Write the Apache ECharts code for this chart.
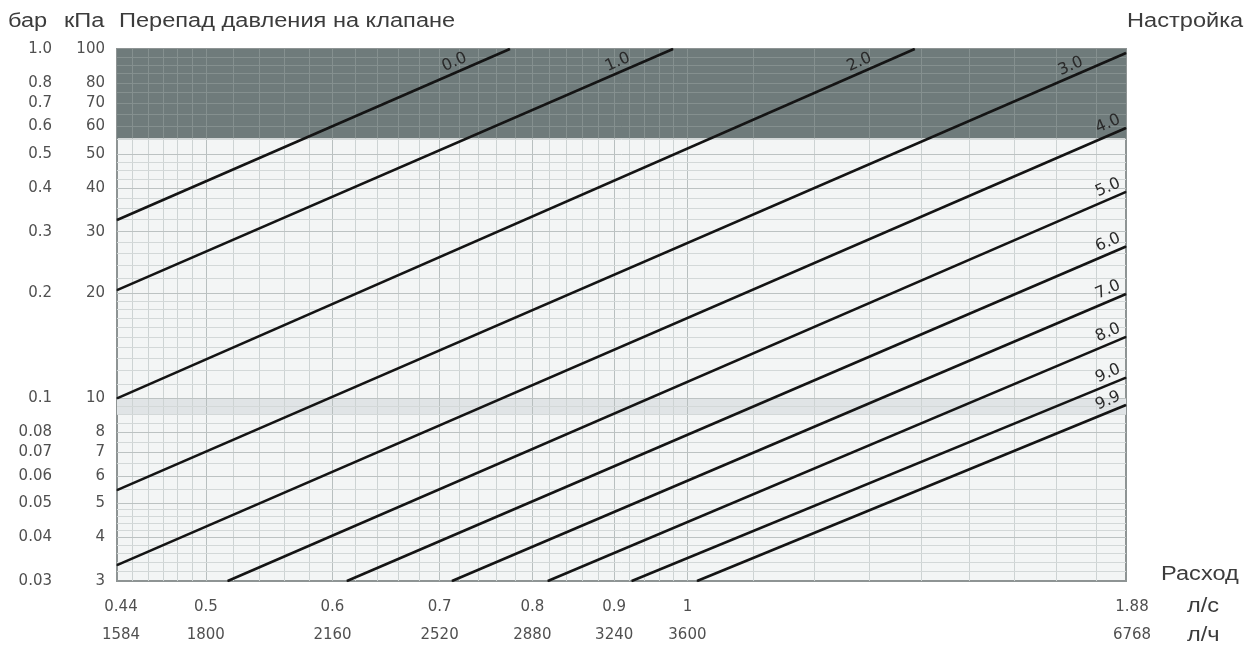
<!DOCTYPE html>
<html><head><meta charset="utf-8">
<script src="https://cdn.jsdelivr.net/npm/echarts@6/dist/echarts.min.js"></script>
<style>html,body{margin:0;padding:0;background:#fff}#c{width:1249px;height:646px}</style>
</head><body><div id="c"></div>
<script>
// ---- data (flow in l/s, pressure drop in kPa) ----
const settings = ['0.0','1.0','2.0','3.0','4.0','5.0','6.0','7.0','8.0','9.0','9.9'];
const lineStart = [[0.44,32.4],[0.44,20.4],[0.44,10.0],[0.44,5.46],[0.44,3.33],[0.516,3],[0.6126,3],[0.7126,3],[0.818,3],[0.923,3],[1.014,3]];
const lineEnd   = [[0.7745,100],[0.9795,100],[1.387,100],[1.88,97.4],[1.88,59.4],[1.88,39.0],[1.88,27.2],[1.88,19.9],[1.88,15.0],[1.88,11.46],[1.88,9.57]];
const flowTicksLs  = [0.44,0.5,0.6,0.7,0.8,0.9,1,1.88];
const flowLabelsLs = ['0.44','0.5','0.6','0.7','0.8','0.9','1','1.88'];
const flowTicksLh  = [1584,1800,2160,2520,2880,3240,3600,6768];
const kpaTicks  = [100,80,70,60,50,40,30,20,10,8,7,6,5,4,3];
const barTicks  = [1,0.8,0.7,0.6,0.5,0.4,0.3,0.2,0.1,0.08,0.07,0.06,0.05,0.04,0.03];
const barLabels = ['1.0','0.8','0.7','0.6','0.5','0.4','0.3','0.2','0.1','0.08','0.07','0.06','0.05','0.04','0.03'];
const gridFlow = [0.45,0.46,0.47,0.48,0.49,0.5,0.52,0.54,0.56,0.58,0.6,0.62,0.64,0.66,0.68,0.7,0.72,0.74,0.76,0.78,0.8,0.82,0.84,0.86,0.88,0.9,0.92,0.94,0.96,0.98,1.0,1.1,1.2,1.3,1.4,1.5,1.6,1.7,1.8];
const gridKpa = [3.2,3.4,3.6,3.8,4,4.2,4.4,4.6,4.8,5,5.5,6,6.5,7,7.5,8,8.5,9,9.5,10,11,12,13,14,15,16,17,18,19,20,22,24,26,28,30,32.5,35,37.5,40,42.5,45,47.5,50,55,60,65,70,75,80,85,90,95];
const darkBand = [55.5, 100];
const lightBand = [9, 10];

// label placement style per curve: 'top' = label set back along the line, 'edge' = at the right edge
const labelStyle = ['top','top','top','top','edge','edge','edge','edge','edge','edge','edge'];

const FLOW_MIN = 0.44, FLOW_MAX = 1.88, P_MIN = 3, P_MAX = 100;
const txt = '#505050';
const numFont = 'DejaVu Sans';
const NUM = 15;

function nearestIdx(arr, v){ let b=0, d=Infinity; arr.forEach((a,i)=>{const e=Math.abs(Math.log(a)-Math.log(v)); if(e<d){d=e;b=i;}}); return b; }

// grid lines
const lightGrid = [], bandGrid = [];
gridFlow.forEach(q=>{
  const major = flowTicksLs.some(t=>Math.abs(t-q)<1e-6);
  lightGrid.push([{coord:[q,P_MIN]},{coord:[q,darkBand[0]], lineStyle:{color: major?'#b8bfbf':'#cdd3d3'}}]);
  bandGrid.push([{coord:[q,darkBand[0]]},{coord:[q,P_MAX]}]);
});
gridKpa.forEach(p=>{
  const major = kpaTicks.some(t=>Math.abs(t-p)<1e-6);
  if (p < darkBand[0]) lightGrid.push([{coord:[FLOW_MIN,p]},{coord:[FLOW_MAX,p], lineStyle:{color: major?'#bcc2c2':'#d3d8d8'}}]);
  else bandGrid.push([{coord:[FLOW_MIN,p]},{coord:[FLOW_MAX,p]}]);
});

const curveSeries = settings.map((s,i)=>{
  const top = labelStyle[i] === 'top';
  return {
    type:'line', name:s, xAxisIndex:0, yAxisIndex:0, z:6,
    symbol:'circle', symbolSize:1, showSymbol:true, silent:true,
    itemStyle:{color:'#141414'},
    lineStyle:{color:'#141414', width:2.6},
    data:[ lineStart[i], { value: lineEnd[i], label:{
      show:true, formatter:s, position:'inside', rotate:23.6,
      align: top ? 'center':'right', verticalAlign:'bottom',
      offset: top ? [-56,-2] : [-2,-3],
      fontFamily:numFont, fontSize:16, color:'#2a2a2a'
    }} ]
  };
});

const titleFont = '20px "Liberation Sans"';
const tcol = '#3c3c3c';
function T(text, x, y, extra){ return Object.assign({type:'text', x:x, y:y, scaleX:1.18, style:{text:text, font:titleFont, fill:tcol, textVerticalAlign:'middle'}}, extra||{}); }

const richA = {padding:[0,0,0,8],color:txt,fontFamily:numFont,fontSize:NUM};
const richB = {padding:[0,0,0,12],color:txt,fontFamily:numFont,fontSize:NUM};

const option = {
  animation:false,
  grid:{left:117, right:123, top:49, bottom:65, show:true, backgroundColor:'#f3f5f5', borderColor:'#8e9494', borderWidth:2, containLabel:false},
  xAxis:[
    {type:'log', logBase:10, min:FLOW_MIN, max:FLOW_MAX, position:'bottom',
     axisLine:{show:false}, axisTick:{show:false}, splitLine:{show:false}, minorSplitLine:{show:false},
     axisLabel:{customValues:flowTicksLs, showMinLabel:true, showMaxLabel:true, margin:19, color:txt, fontFamily:numFont, fontSize:NUM,
       formatter:v=>{const i=nearestIdx(flowTicksLs,v); const l=flowLabelsLs[i]; return i===0?'{a|'+l+'}':(i===flowTicksLs.length-1?'{b|'+l+'}':l);},
       rich:{a:richA,b:richB}}},
    {type:'log', logBase:10, min:flowTicksLh[0], max:flowTicksLh[flowTicksLh.length-1], position:'bottom', offset:28,
     axisLine:{show:false}, axisTick:{show:false}, splitLine:{show:false},
     axisLabel:{customValues:flowTicksLh, showMinLabel:true, showMaxLabel:true, margin:19, color:txt, fontFamily:numFont, fontSize:NUM,
       formatter:v=>{const i=nearestIdx(flowTicksLh,v); const l=String(flowTicksLh[i]); return i===0?'{a|'+l+'}':(i===flowTicksLh.length-1?'{b|'+l+'}':l);},
       rich:{a:richA,b:richB}}}
  ],
  yAxis:[
    {type:'log', logBase:10, min:P_MIN, max:P_MAX, position:'left',
     axisLine:{show:false}, axisTick:{show:false}, splitLine:{show:false},
     axisLabel:{customValues:kpaTicks, showMinLabel:true, showMaxLabel:true, margin:12, color:txt, fontFamily:numFont, fontSize:NUM,
       formatter:v=>String(kpaTicks[nearestIdx(kpaTicks,v)])}},
    {type:'log', logBase:10, min:barTicks[barTicks.length-1], max:barTicks[0], position:'left', offset:53,
     axisLine:{show:false}, axisTick:{show:false}, splitLine:{show:false},
     axisLabel:{customValues:barTicks, showMinLabel:true, showMaxLabel:true, margin:12, color:txt, fontFamily:numFont, fontSize:NUM,
       formatter:v=>barLabels[nearestIdx(barTicks,v)]}}
  ],
  graphic:[
    T('бар', 8, 21),
    T('кПа', 64, 21),
    T('Перепад давления на клапане', 119, 21),
    T('Настройка', 1127, 21),
    T('Расход', 1161, 574),
    T('л/с', 1187, 606),
    T('л/ч', 1187, 635)
  ],
  series:[
    {type:'line', data:[], xAxisIndex:0, yAxisIndex:0, silent:true,
     markArea:{silent:true, z:1, data:[
       [{yAxis:darkBand[0], itemStyle:{color:'#6f7b7b', opacity:1}},{yAxis:darkBand[1]}],
       [{yAxis:lightBand[0], itemStyle:{color:'#e0e4e6', opacity:1}},{yAxis:lightBand[1]}]
     ]},
     markLine:{silent:true, z:3, symbol:['none','none'], label:{show:false}, animation:false,
       lineStyle:{type:'solid', width:1, color:'#cdd3d3'}, data:lightGrid}},
    {type:'line', data:[], xAxisIndex:0, yAxisIndex:0, silent:true,
     markLine:{silent:true, z:3, symbol:['none','none'], label:{show:false}, animation:false,
       lineStyle:{type:'solid', width:1, color:'#85908f'}, data:bandGrid}},
    ...curveSeries
  ]
};
const chart = echarts.init(document.getElementById('c'), null, {renderer:'canvas'});
chart.setOption(option);
</script></body></html>
